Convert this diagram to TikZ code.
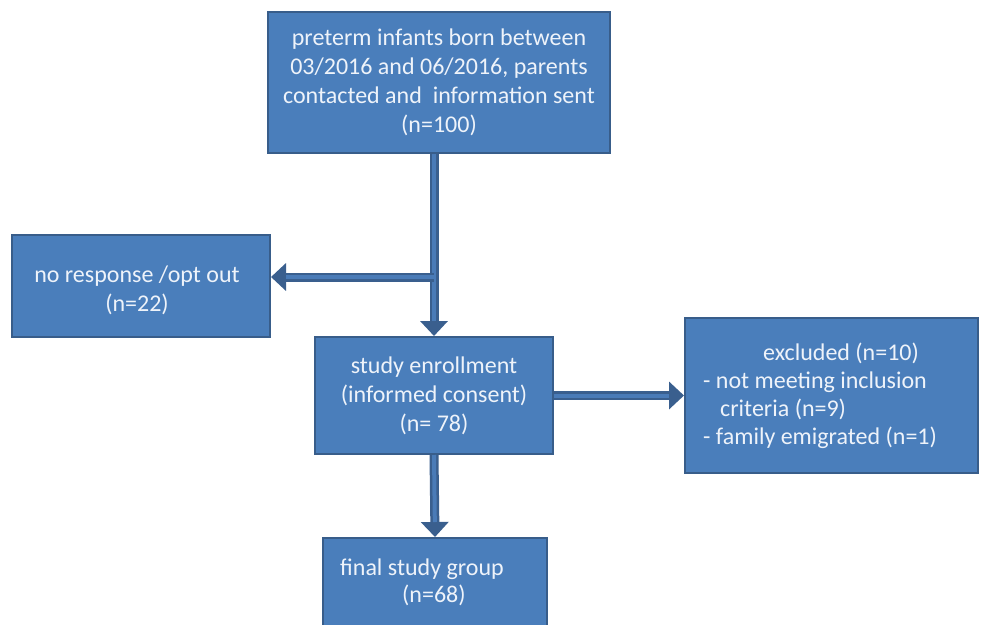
\documentclass[tikz,border=0pt]{standalone}
\usepackage{fontspec}
\setmainfont{Carlito}
\usetikzlibrary{arrows.meta,calc}
\definecolor{boxfill}{HTML}{4A7EBB}
\definecolor{boxline}{HTML}{385D8A}
\definecolor{arrdark}{HTML}{3A5F8E}
\definecolor{arrfill}{HTML}{4A7BB7}
\definecolor{txtcol}{HTML}{EEF3FA}
\tikzset{
  box/.style={draw=boxline, line width=2pt, fill=boxfill, inner sep=0pt},
  txt/.style={text=txtcol, font=\fontsize{24}{29}\selectfont, inner sep=0pt},
  fat/.style={draw=arrdark, line width=9pt, -{Triangle[width=27pt,length=15pt]}},
  fatin/.style={draw=arrfill, line width=4pt, shorten >=15pt},
}
\begin{document}
\begin{tikzpicture}[x=1pt,y=-1pt]
\clip (0,0) rectangle (990,624);
\fill[white] (0,0) rectangle (990,624);
% boxes
\node[box, minimum width=342pt, minimum height=141pt] (top) at (439,82.5) {};
\node[box, minimum width=258pt, minimum height=102pt] (noresp) at (141,286) {};
\node[box, minimum width=238pt, minimum height=117pt] (enroll) at (434,395.5) {};
\node[box, minimum width=293pt, minimum height=155pt] (excl) at (831.5,395.5) {};
\node[box, minimum width=224pt, minimum height=110pt] (final) at (435,593) {};
% texts
\node[txt, align=center] (ttop) at (top.center) {preterm infants born between\\03/2016 and 06/2016, parents\\contacted and~ information sent\\(n=100)};
\node[txt, align=center] (tnoresp) at (137,290) {no response /opt out\\(n=22)};
\node[txt, align=center] (tenroll) at (enroll.center) {study enrollment\\(informed consent)\\(n= 78)};
\node[txt, align=left, anchor=west, font=\fontsize{24}{28}\selectfont] (texcl) at (703,396) {\hspace*{60pt}excluded (n=10)\\- not meeting inclusion\\\hspace*{17pt}criteria (n=9)\\- family emigrated (n=1)};
\node[txt, align=left, anchor=west, font=\fontsize{24}{27}\selectfont] (tfinal) at (340,582) {final study group\\\hspace*{62pt}(n=68)};
% connectors
\coordinate (j) at ($(top.south -| enroll.north)+(0,123)$);
\draw[fat] (top.south -| enroll.north) -- (enroll.north);
\draw[fatin] (top.south -| enroll.north) -- (enroll.north);
\draw[fat] (j) -- (j -| noresp.east);
\draw[fatin] (j) -- (j -| noresp.east);
\draw[fat] (enroll.east) -- (excl.west);
\draw[fatin] (enroll.east) -- (excl.west);
\draw[fat] (enroll.south) -- (final.north);
\draw[fatin] (enroll.south) -- (final.north);
\end{tikzpicture}
\end{document}
